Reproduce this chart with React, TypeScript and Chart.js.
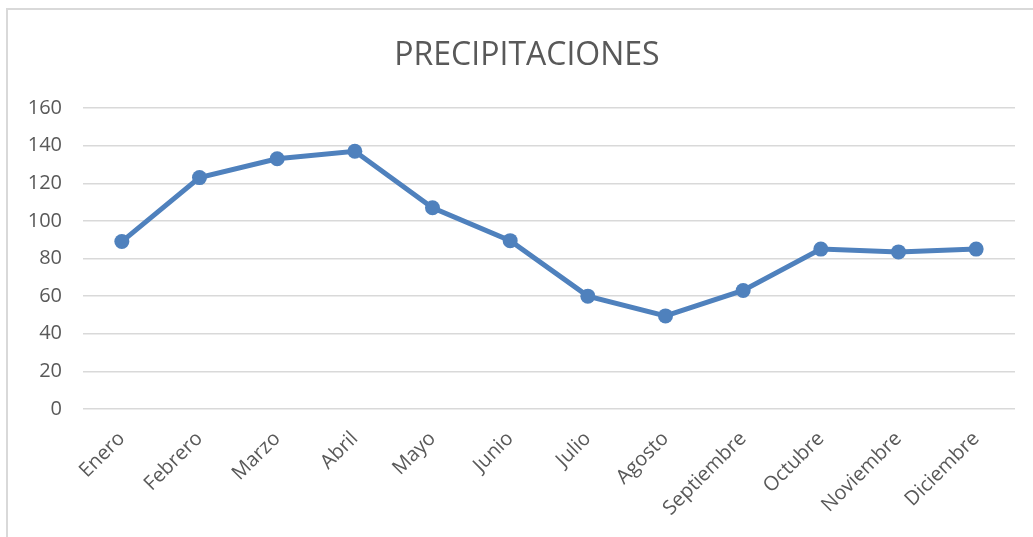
import React, { useEffect, useRef } from "react";
import { Chart, registerables } from "chart.js";

Chart.register(...registerables);

const months = [
  "Enero", "Febrero", "Marzo", "Abril", "Mayo", "Junio",
  "Julio", "Agosto", "Septiembre", "Octubre", "Noviembre", "Diciembre",
];
const precipitation = [89, 123, 133, 137, 107, 89.5, 60, 49.5, 63, 85, 83.5, 85];
const yTicks = [0, 20, 40, 60, 80, 100, 120, 140, 160];
const titleText = "PRECIPITACIONES";

const titlePlugin = {
  id: "offsetTitle",
  afterDraw(chart: any) {
    const ctx = chart.ctx;
    const area = chart.chartArea;
    ctx.save();
    ctx.font = "normal 32px 'Open Sans'";
    ctx.fillStyle = "#595959";
    ctx.textAlign = "center";
    ctx.textBaseline = "middle";
    ctx.fillText(titleText, (area.left + area.right) / 2 - 22, area.top - 52);
    ctx.restore();
  },
};

export default function App() {
  const ref = useRef<HTMLCanvasElement | null>(null);

  useEffect(() => {
    if (!ref.current) return;
    const chart = new Chart(ref.current, {
      type: "line",
      data: {
        labels: months,
        datasets: [
          {
            label: titleText,
            data: precipitation,
            borderColor: "#4F81BD",
            backgroundColor: "#4F81BD",
            borderWidth: 5,
            pointRadius: 7.5,
            pointHoverRadius: 7.5,
            pointBorderWidth: 0,
            tension: 0,
          },
        ],
      },
      options: {
        animation: false,
        responsive: false,
        maintainAspectRatio: false,
        layout: { padding: { left: 7, right: 18, top: 108, bottom: 0 } },
        plugins: {
          legend: { display: false },
          tooltip: { enabled: false },
          title: { display: false },
        },
        scales: {
          x: {
            type: "category",
            offset: true,
            grid: { display: false, drawTicks: false },
            border: { display: false },
            ticks: {
              color: "#595959",
              font: { family: "'Open Sans'", size: 20 },
              minRotation: 45,
              maxRotation: 45,
              padding: 18,
              autoSkip: false,
            },
            afterFit: (s: any) => {
              s.height = 128;
            },
          },
          y: {
            min: 0,
            max: 160,
            afterBuildTicks: (s: any) => {
              s.ticks = yTicks.map((v) => ({ value: v }));
            },
            grid: { color: "#D9D9D9", lineWidth: 1.5, drawTicks: false },
            border: { display: false },
            ticks: {
              color: "#595959",
              font: { family: "'Open Sans'", size: 20 },
              padding: 21,
            },
            afterFit: (s: any) => {
              s.width = 76;
            },
          },
        },
      },
      plugins: [titlePlugin],
    });
    return () => chart.destroy();
  }, []);

  return (
    <div style={{ position: "fixed", left: 0, top: 0, width: 1033, height: 537, overflow: "hidden", background: "#fff" }}>
      <div
        style={{
          position: "absolute",
          left: 6,
          top: 8,
          width: 1100,
          height: 600,
          borderTop: "2px solid #D9D9D9",
          borderLeft: "2px solid #D9D9D9",
        }}
      />
      <canvas ref={ref} width={1033} height={537} style={{ position: "absolute", left: 0, top: 0 }} />
    </div>
  );
}
